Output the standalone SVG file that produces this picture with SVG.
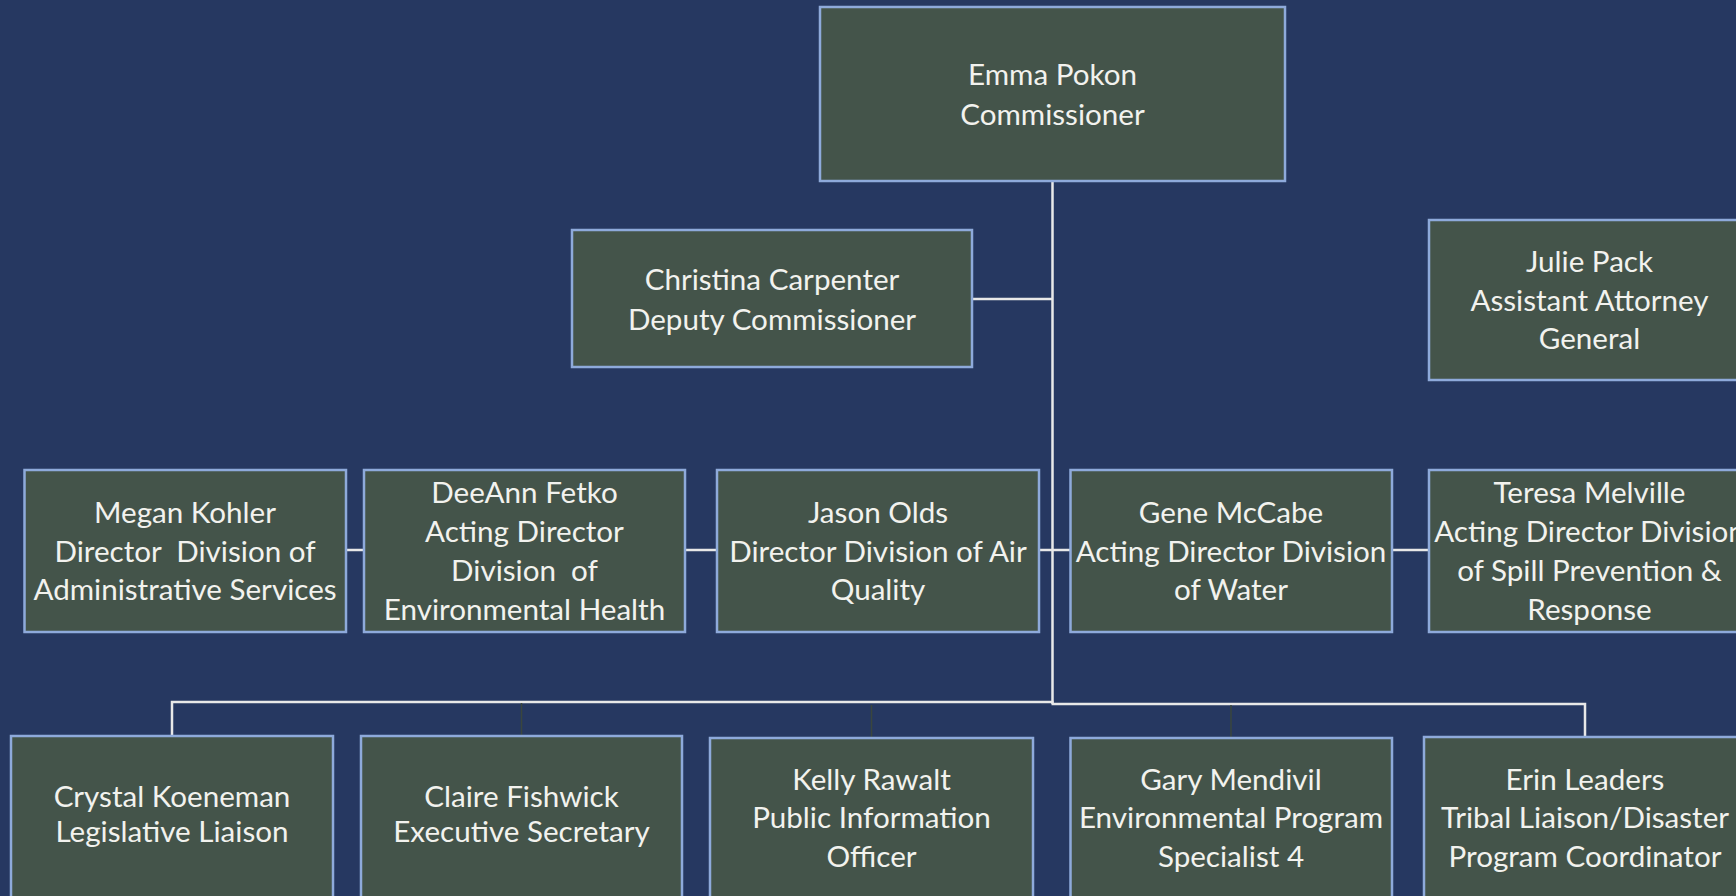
<svg xmlns="http://www.w3.org/2000/svg" width="1736" height="896" viewBox="0 0 1736 896">
<style>
.box{fill:#44544A;stroke:#8EAADB;stroke-width:2.5}
.t{font-family:Lato,"Open Sans","Liberation Sans",sans-serif;font-size:29.6px;fill:#F2F2EE;text-anchor:middle;white-space:pre}
.c{stroke:#E8E8E8;stroke-width:2.5;fill:none}
.tick{stroke:#3A463E;stroke-width:1.5;fill:none}
</style>
<rect width="1736" height="896" fill="#263861"/>
<g id="connectors">
<path class="c" d="M1052.5 181V704"/>
<path class="c" d="M972 299H1052.5"/>
<path class="c" d="M346 550H364M685 550H717M1039 550H1070.5M1392 550H1429"/>
<path class="c" d="M172 736V702H1053.5"/>
<path class="c" d="M1051.5 704H1585V737"/>
<path class="tick" d="M521.5 703V736M871.5 705V738M1231 705V738"/>
</g>
<g id="emma"><rect class="box" x="820" y="7" width="465" height="174"/>
<text class="t" x="1052.5" y="85">Emma Pokon</text><text class="t" x="1052.5" y="125">Commissioner</text></g>
<g id="christina"><rect class="box" x="572" y="230" width="400" height="137"/>
<text class="t" x="772" y="290">Christina Carpenter</text><text class="t" x="772" y="330">Deputy Commissioner</text></g>
<g id="julie"><rect class="box" x="1429" y="220" width="321" height="160"/>
<text class="t" x="1589.5" y="272">Julie Pack</text><text class="t" x="1589.5" y="311">Assistant Attorney</text><text class="t" x="1589.5" y="349">General</text></g>
<g id="megan"><rect class="box" x="24.5" y="470" width="321.5" height="162"/>
<text class="t" x="185" y="523">Megan Kohler</text><text class="t" x="185" y="562">Director  Division of</text><text class="t" x="185" y="600">Administrative Services</text></g>
<g id="deeann"><rect class="box" x="364" y="470" width="321" height="162"/>
<text class="t" x="524.5" y="503">DeeAnn Fetko</text><text class="t" x="524.5" y="542">Acting Director</text><text class="t" x="524.5" y="581">Division  of</text><text class="t" x="524.5" y="620">Environmental Health</text></g>
<g id="jason"><rect class="box" x="717" y="470" width="322" height="162"/>
<text class="t" x="878" y="523">Jason Olds</text><text class="t" x="878" y="562">Director Division of Air</text><text class="t" x="878" y="600">Quality</text></g>
<g id="gene"><rect class="box" x="1070.5" y="470" width="321.5" height="162"/>
<text class="t" x="1231" y="523">Gene McCabe</text><text class="t" x="1231" y="562">Acting Director Division</text><text class="t" x="1231" y="600">of Water</text></g>
<g id="teresa"><rect class="box" x="1429" y="470" width="321" height="162"/>
<text class="t" x="1589.5" y="503">Teresa Melville</text><text class="t" x="1589.5" y="542">Acting Director Division</text><text class="t" x="1589.5" y="581">of Spill Prevention &amp;</text><text class="t" x="1589.5" y="620">Response</text></g>
<g id="crystal"><rect class="box" x="11" y="736" width="322" height="175"/>
<text class="t" x="172" y="807">Crystal Koeneman</text><text class="t" x="172" y="842">Legislative Liaison</text></g>
<g id="claire"><rect class="box" x="361" y="736" width="321" height="175"/>
<text class="t" x="521.5" y="807">Claire Fishwick</text><text class="t" x="521.5" y="842">Executive Secretary</text></g>
<g id="kelly"><rect class="box" x="710" y="738" width="323" height="175"/>
<text class="t" x="871.5" y="790">Kelly Rawalt</text><text class="t" x="871.5" y="828">Public Information</text><text class="t" x="871.5" y="867">Officer</text></g>
<g id="gary"><rect class="box" x="1070.5" y="738" width="321.5" height="175"/>
<text class="t" x="1231" y="790">Gary Mendivil</text><text class="t" x="1231" y="828">Environmental Program</text><text class="t" x="1231" y="867">Specialist 4</text></g>
<g id="erin"><rect class="box" x="1424" y="737" width="322" height="175"/>
<text class="t" x="1585" y="790">Erin Leaders</text><text class="t" x="1585" y="828">Tribal Liaison/Disaster</text><text class="t" x="1585" y="867">Program Coordinator</text></g>
</svg>
